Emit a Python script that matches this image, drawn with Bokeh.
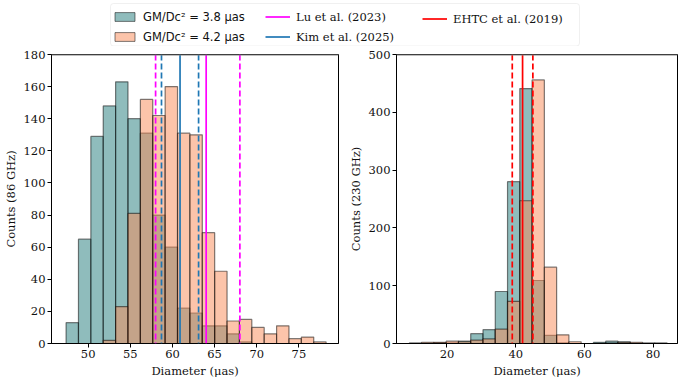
import numpy as np
from bokeh.plotting import figure
from bokeh.models import Range1d, Span, Legend, LegendItem, FixedTicker, BoxAnnotation
from bokeh.layouts import column, row
from bokeh.embed import file_html
from bokeh.resources import INLINE

# ---------------- data ----------------
left_bins = np.linspace(47.38, 78.23, 22)          # 86 GHz bin edges (uas)
left_counts_38 = [13, 65, 129, 148, 163, 140, 131, 80, 60, 22, 19, 11, 11, 6, 1, 0, 0, 0, 0, 0, 0]
left_counts_42 = [0, 0, 0, 2, 23, 81, 152, 142, 160, 131, 130, 69, 45, 14, 15, 10, 6, 11, 3, 4, 1]

right_bins = np.linspace(9.04, 84.07, 22)          # 230 GHz bin edges (uas)
right_counts_38 = [0, 0, 1, 1, 4, 17, 24, 90, 280, 441, 109, 14, 1, 0, 0, 2, 4, 3, 0, 0, 0]
right_counts_42 = [1, 2, 2, 4, 3, 6, 8, 25, 73, 247, 456, 132, 15, 3, 0, 0, 1, 2, 2, 1, 1]

lu_2023 = [64.0, 58.0, 68.0]        # central, lower, upper
kim_2025 = [60.9, 58.7, 63.1]
ehtc_2019 = [42.0, 39.0, 45.0]

left_xticks = [50, 55, 60, 65, 70, 75]
left_yticks = [0, 20, 40, 60, 80, 100, 120, 140, 160, 180]
right_xticks = [20, 40, 60, 80]
right_yticks = [0, 100, 200, 300, 400, 500]

hist_labels = ["GM/Dc² = 3.8 μas", "GM/Dc² = 4.2 μas"]
ref_labels = ["Lu et al. (2023)", "Kim et al. (2025)", "EHTC et al. (2019)"]

# ---------------- style ----------------
TEAL = "#1f7a7a"
SALMON = "#fa8a55"
MAGENTA = "#ff00ff"
BLUE = "#1f77b4"
RED = "#ff0000"
FONT = "DejaVu Serif"
FS = "11.5px"
DASH = "6 3"
TXT = "#111111"


def style(p, xticks, yticks, xlabel, ylabel):
    p.xgrid.visible = False
    p.ygrid.visible = False
    p.outline_line_color = "black"
    p.outline_line_width = 1
    p.xaxis.ticker = FixedTicker(ticks=xticks)
    p.yaxis.ticker = FixedTicker(ticks=yticks)
    p.xaxis.axis_label = xlabel
    p.yaxis.axis_label = ylabel
    for ax in (p.xaxis, p.yaxis):
        ax.axis_label_text_font = FONT
        ax.axis_label_text_font_size = FS
        ax.axis_label_text_font_style = "normal"
        ax.axis_label_text_color = TXT
        ax.major_label_text_font = FONT
        ax.major_label_text_font_size = FS
        ax.major_label_text_color = TXT
        ax.major_tick_out = 4
        ax.major_tick_in = 0
        ax.minor_tick_out = 0
        ax.minor_tick_in = 0
        ax.major_label_standoff = 2
        ax.axis_label_standoff = 3
        ax.axis_line_color = "black"
        ax.major_tick_line_color = "black"


def hist(p, edges, counts, color):
    return p.quad(left=edges[:-1], right=edges[1:], bottom=0, top=counts,
                  fill_color=color, fill_alpha=0.5,
                  line_color="black", line_alpha=0.5, line_width=1.2)


def vlines(p, vals, color):
    c, lo, hi = vals
    p.add_layout(Span(location=c, dimension="height", line_color=color, line_width=1.7))
    for v in (lo, hi):
        p.add_layout(Span(location=v, dimension="height", line_color=color,
                          line_width=1.7, line_dash=DASH))


# ---------------- left panel ----------------
left = figure(width=345, height=335, x_range=Range1d(45.65, 79.7), y_range=Range1d(0, 180),
              output_backend="svg", toolbar_location=None,
              min_border_left=47, min_border_right=7, min_border_top=8, min_border_bottom=38)
hist(left, left_bins, left_counts_38, TEAL)
hist(left, left_bins, left_counts_42, SALMON)
vlines(left, lu_2023, MAGENTA)
vlines(left, kim_2025, BLUE)
left.add_layout(Span(location=180, dimension="width", line_color="#808080", line_width=2))
style(left, left_xticks, left_yticks, "Diameter (μas)", "Counts (86 GHz)")

# ---------------- right panel ----------------
right = figure(width=333, height=335, x_range=Range1d(5.3, 87.1), y_range=Range1d(0, 500),
               output_backend="svg", toolbar_location=None,
               min_border_left=45, min_border_right=1, min_border_top=8, min_border_bottom=38)
hist(right, right_bins, right_counts_38, TEAL)
hist(right, right_bins, right_counts_42, SALMON)
vlines(right, ehtc_2019, RED)
right.add_layout(Span(location=500, dimension="width", line_color="#808080", line_width=2))
style(right, right_xticks, right_yticks, "Diameter (μas)", "Counts (230 GHz)")

# ---------------- legend strip (pixel-unit canvas) ----------------
LW, LH = 678, 46
leg = figure(width=LW, height=LH, x_range=Range1d(0, LW), y_range=Range1d(0, LH),
             output_backend="svg", toolbar_location=None,
             x_axis_location=None, y_axis_location=None, min_border=0)
leg.xgrid.visible = False
leg.ygrid.visible = False
leg.outline_line_color = None
leg.add_layout(BoxAnnotation(left=110, right=579, bottom=0.5, top=43,
                             fill_color="white", fill_alpha=1,
                             line_color="#cccccc", line_width=1, border_radius=3))

nan = [np.nan]
e = dict(left=nan, right=nan, top=nan, bottom=nan)
r1 = leg.quad(**e, fill_color=TEAL, fill_alpha=0.5, line_color="black", line_alpha=0.5)
r2 = leg.quad(**e, fill_color=SALMON, fill_alpha=0.5, line_color="black", line_alpha=0.5)
r3 = leg.line(x=nan, y=nan, line_color=MAGENTA, line_width=1.7)
r4 = leg.line(x=nan, y=nan, line_color=BLUE, line_width=1.7)
r5 = leg.line(x=nan, y=nan, line_color=RED, line_width=1.7)

common = dict(orientation="vertical", glyph_width=25, glyph_height=11, label_height=12,
              label_standoff=6, spacing=6, padding=5, margin=0,
              label_text_font_size=FS, label_text_color=TXT,
              border_line_color=None, background_fill_alpha=0)

leg1 = Legend(items=[LegendItem(label=hist_labels[0], renderers=[r1]),
                     LegendItem(label=hist_labels[1], renderers=[r2])],
              location=(112, 2.3), label_text_font="DejaVu Sans", **common)
leg2 = Legend(items=[LegendItem(label=ref_labels[0], renderers=[r3]),
                     LegendItem(label=ref_labels[1], renderers=[r4])],
              location=(265, 2.3), label_text_font=FONT, **common)
leg3 = Legend(items=[LegendItem(label=ref_labels[2], renderers=[r5])],
              location=(422, 20.3), label_text_font=FONT, **common)
for lg in (leg1, leg2, leg3):
    leg.add_layout(lg, "center")

layout = column(leg, row(left, right, spacing=0), spacing=0)

open("out.html", "w").write(file_html(layout, INLINE))
